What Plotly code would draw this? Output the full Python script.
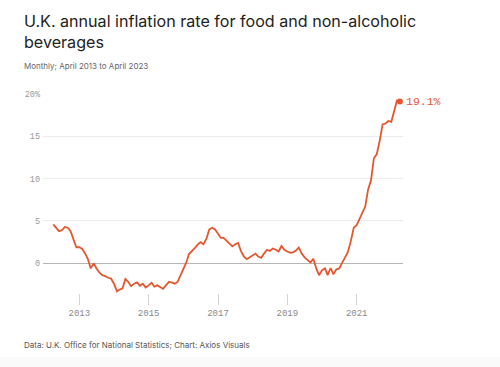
import pandas as pd
import plotly.graph_objects as go

# ---- data ----
months = pd.date_range("2013-04-01", "2023-04-01", freq="MS")
food_inflation = [
    4.6, 4.2, 3.8, 3.9, 4.3, 4.2, 3.8, 2.8, 1.9, 1.9, 1.7, 1.2,
    0.5, -0.6, 0.0, -0.6, -1.1, -1.4, -1.5, -1.7, -1.8, -2.4, -3.3, -3.1,
    -2.95, -1.85, -2.2, -2.7, -2.4, -2.25, -2.65, -2.4, -2.85, -2.6, -2.3, -2.75,
    -2.6, -2.8, -3.0, -2.6, -2.2, -2.25, -2.4, -2.2, -1.4, -0.6, 0.1, 1.1,
    1.4, 1.8, 2.2, 2.5, 2.25, 2.9, 4.0, 4.2, 4.0, 3.5, 3.0, 3.0,
    2.7, 2.3, 2.0, 2.25, 2.4, 1.4, 0.8, 0.5, 0.7, 0.9, 1.15, 0.8,
    0.65, 1.15, 1.6, 1.45, 1.75, 1.6, 1.4, 2.05, 1.6, 1.4, 1.25, 1.3,
    1.5, 1.85, 1.15, 0.7, 0.35, 0.1, 0.55, -0.6, -1.4, -0.8, -0.6, -1.4,
    -0.55, -1.3, -0.7, -0.6, 0.05, 0.65, 1.35, 2.65, 4.2, 4.5, 5.3, 6.0,
    6.7, 8.7, 9.8, 12.4, 12.9, 14.5, 16.4, 16.5, 16.8, 16.7, 18.2, 19.2,
    19.1,
]
x_tick_vals = ["2014-01-01", "2016-01-01", "2018-01-01", "2020-01-01", "2022-01-01"]
x_tick_text = ["2013", "2015", "2017", "2019", "2021"]
y_tick_vals = [0, 5, 10, 15, 20]
y_tick_text = ["0", "5", "10", "15", "20%"]
last_label = "19.1%"

title_text = "U.K. annual inflation rate for food and non-alcoholic<br>beverages"
subtitle_text = "Monthly; April 2013 to April 2023"
source_text = "Data: U.K. Office for National Statistics; Chart: Axios Visuals"

LINE = "#e4572e"
MONO = "Liberation Mono, DejaVu Sans Mono, monospace"
SANS = "Inter, Noto Sans, Arial, sans-serif"

PLOT_TOP, PLOT_H, PLOT_W = 93.2, 199.7, 360.0

fig = go.Figure()
fig.add_trace(go.Scatter(
    x=months, y=food_inflation, mode="lines",
    line=dict(color=LINE, width=1.8), hoverinfo="skip", showlegend=False,
))
fig.add_trace(go.Scatter(
    x=[months[-1]], y=[food_inflation[-1]], mode="markers",
    marker=dict(color=LINE, size=6),
    hoverinfo="skip", showlegend=False, cliponaxis=False,
))

fig.update_layout(
    width=500, height=367,
    margin=dict(l=43, r=97, t=93, b=74, autoexpand=False),
    paper_bgcolor="white", plot_bgcolor="white",
    xaxis=dict(
        range=["2012-12-14", "2023-05-04"],
        tickvals=x_tick_vals, ticktext=x_tick_text,
        showgrid=False, zeroline=False, showline=False,
        ticks="outside", ticklen=11, tickcolor="#d4d4d4", tickwidth=1,
        tickfont=dict(family=MONO, size=9, color="#8a8a8a"),
    ),
    yaxis=dict(
        range=[-3.5, 20.1],
        tickvals=y_tick_vals, ticktext=y_tick_text,
        showgrid=True, gridcolor="#ececec", gridwidth=1,
        zeroline=True, zerolinecolor="#b5b5b5", zerolinewidth=1,
        showline=False, ticks="", ticklabelstandoff=2,
        tickfont=dict(family=MONO, size=8.5, color="#9a9a9a"),
    ),
    annotations=[
        dict(text=title_text, xref="paper", yref="paper", align="left",
             x=-21 / PLOT_W, xanchor="left", y=1 + (PLOT_TOP - 9.5) / PLOT_H, yanchor="top",
             showarrow=False, font=dict(family=SANS, size=16.1, color="#222222")),
        dict(text=subtitle_text, xref="paper", yref="paper",
             x=-21 / PLOT_W, xanchor="left", y=1 + (PLOT_TOP - 66.7) / PLOT_H, yanchor="middle",
             showarrow=False, font=dict(family=SANS, size=8, color="#666666")),
        dict(text=source_text, xref="paper", yref="paper",
             x=-21 / PLOT_W, xanchor="left", y=-(345 - 292.9) / PLOT_H, yanchor="middle",
             showarrow=False, font=dict(family=SANS, size=8, color="#555555")),
        dict(text=last_label, x=months[-1], y=food_inflation[-1],
             xref="x", yref="y", xanchor="left", yanchor="middle", xshift=4,
             showarrow=False, font=dict(family=MONO, size=11.5, color=LINE)),
    ],
    shapes=[
        dict(type="rect", xref="paper", yref="paper", layer="below",
             x0=-43 / PLOT_W, x1=1 + 97 / PLOT_W, y0=-74 / PLOT_H, y1=-(357 - 292.9) / PLOT_H,
             fillcolor="#fafafa", line=dict(width=0)),
    ],
)

fig.write_html("out.html", config={"displayModeBar": False},
               post_script="document.body.style.margin='0';")
